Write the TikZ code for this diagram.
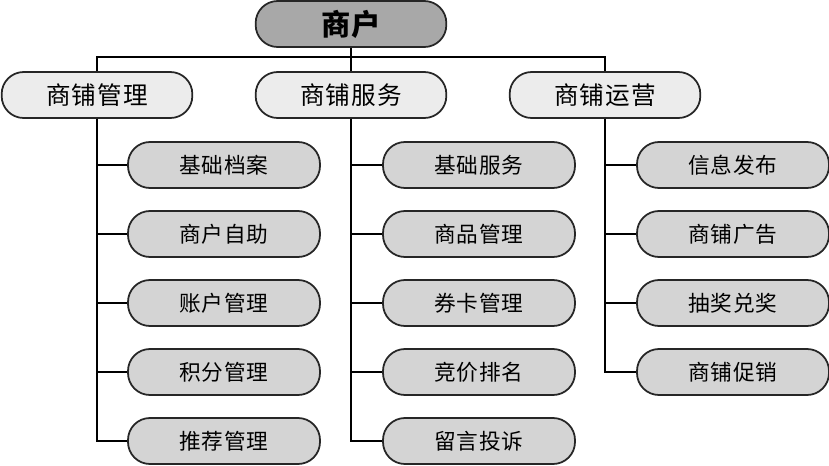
\documentclass[tikz,border=0pt]{standalone}
\usepackage{fontspec}
\setmainfont{Noto Sans CJK SC}[LetterSpace=4]
\usetikzlibrary{positioning}
\definecolor{rootgray}{RGB}{168,168,168}
\definecolor{midgray}{RGB}{236,236,236}
\definecolor{leafgray}{RGB}{212,212,212}

\begin{document}
\begin{tikzpicture}[x=0.03cm,y=-0.03cm,line width=0.9pt,
  box/.style={draw=black!85,line width=1.5pt,rounded corners=0.66cm,minimum width=5.72cm,minimum height=1.38cm,inner sep=0pt},
  top/.style={box,fill=rootgray,font=\fontsize{25pt}{25pt}\selectfont\bfseries},
  mid/.style={box,fill=midgray,font=\fontsize{21pt}{21pt}\selectfont},
  leaf/.style={box,fill=leafgray,minimum width=5.76cm,font=\fontsize{18.5pt}{18.5pt}\selectfont}]
\useasboundingbox (0,0) rectangle (829,465);
\node[top] (root) at (351,24) {商户};
\node[mid] (gl) at (97,95) {商铺管理};
\node[mid] (fw) at (351,95) {商铺服务};
\node[mid] (yy) at (605,95) {商铺运营};
\coordinate (bus) at (351,57);
\draw (root) -- (bus);
\draw (gl) |- (bus) -| (yy);
\draw (bus) -- (fw);
% leaves
\foreach \t [count=\i] in {基础档案,商户自助,账户管理,积分管理,推荐管理}{
  \node[leaf] (gl-\i) at (224,{96+69*\i}) {\t};
  \draw (gl) |- (gl-\i);
}
\foreach \t [count=\i] in {基础服务,商品管理,券卡管理,竞价排名,留言投诉}{
  \node[leaf] (fw-\i) at (479,{96+69*\i}) {\t};
  \draw (fw) |- (fw-\i);
}
\foreach \t [count=\i] in {信息发布,商铺广告,抽奖兑奖,商铺促销}{
  \node[leaf] (yy-\i) at (733,{96+69*\i}) {\t};
  \draw (yy) |- (yy-\i);
}
\end{tikzpicture}
\end{document}
